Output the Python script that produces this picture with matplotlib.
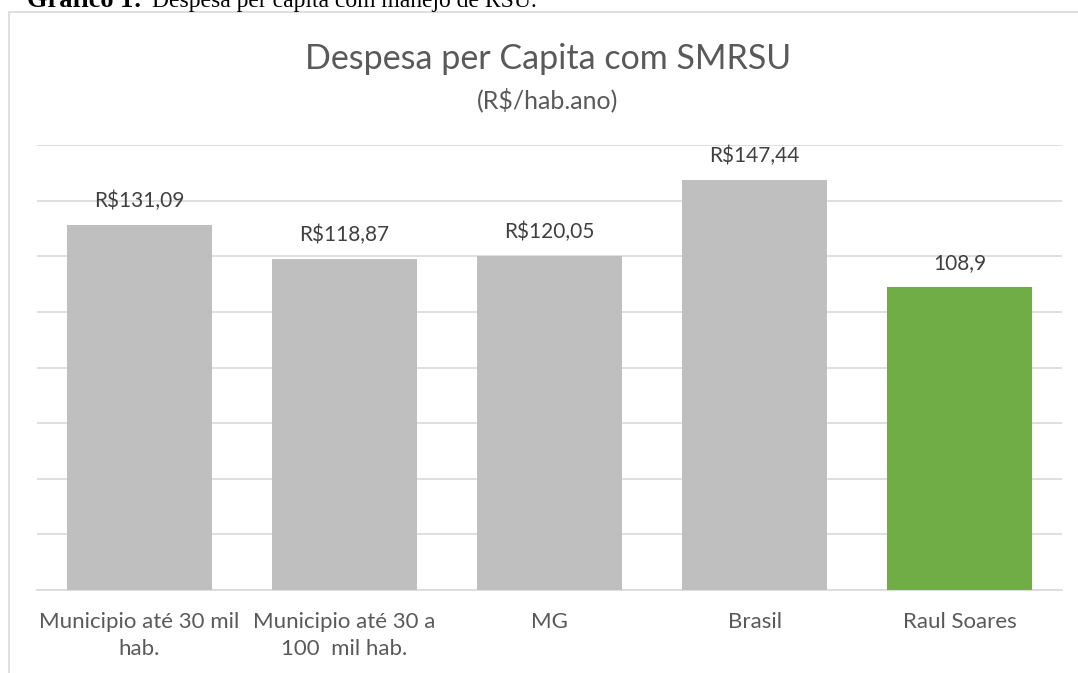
import matplotlib
matplotlib.use("Agg")
import matplotlib.pyplot as plt
from matplotlib.patches import Rectangle

categorias = ["Municipio até 30 mil\nhab.", "Municipio até 30 a\n100  mil hab.", "MG", "Brasil", "Raul Soares"]
valores = [131.09, 118.87, 120.05, 147.44, 108.9]
rotulos = ["R$131,09", "R$118,87", "R$120,05", "R$147,44", "108,9"]
cores = ["#bfbfbf", "#bfbfbf", "#bfbfbf", "#bfbfbf", "#70ad47"]

plt.rcParams['font.family'] = ['Lato', 'DejaVu Sans']
txt = "#595959"

fig = plt.figure(figsize=(10.78, 6.73), dpi=100)
ax = fig.add_axes([37/1078, 1-590/673, 1025/1078, 445/673])

x = range(len(valores))
ax.bar(x, valores, width=0.71, color=cores, zorder=3)
for i, v in enumerate(valores):
    ax.annotate(rotulos[i], (i, v), xytext=(0, 10), textcoords="offset points",
                ha="center", va="bottom", fontsize=15, color="#404040")

ax.set_xlim(-0.5, 4.5)
ax.set_ylim(0, 160)
ax.set_yticks(range(0, 161, 20))
ax.set_yticklabels([])
ax.tick_params(axis="y", length=0)
ax.grid(axis="y", color="#d9d9d9", linewidth=1.2, zorder=0)
ax.set_xticks(list(x))
ax.set_xticklabels(categorias, fontsize=16, color=txt, linespacing=1.45)
ax.tick_params(axis="x", length=0, pad=16)
for s in ["top", "right", "left"]:
    ax.spines[s].set_visible(False)
ax.spines["bottom"].set_color("#d9d9d9")
ax.spines["bottom"].set_linewidth(1.2)

fig.text(548/1078, 1-59/673, "Despesa per Capita com SMRSU", ha="center", va="center",
         fontsize=24.5, color=txt)
fig.text(548/1078, 1-100/673, "(R$/hab.ano)", ha="center", va="center",
         fontsize=18, color=txt)

# moldura do grafico
fig.patches.append(Rectangle((9/1078, -0.1), 1.2, 1-12/673+0.1, transform=fig.transFigure,
                             fill=False, edgecolor="#d9d9d9", linewidth=1.2))

# legenda do documento, cortada no topo como no original
fig.text(142/1078, 1-7/673, "Gráfico 1:", ha="right", va="baseline",
         fontsize=19, fontweight="bold", family="Liberation Serif", color="black")
fig.text(152/1078, 1-7/673, "Despesa per capita com manejo de RSU.", ha="left", va="baseline",
         fontsize=17, family="Liberation Serif", color="black")

fig.savefig("out.png", dpi=100)
